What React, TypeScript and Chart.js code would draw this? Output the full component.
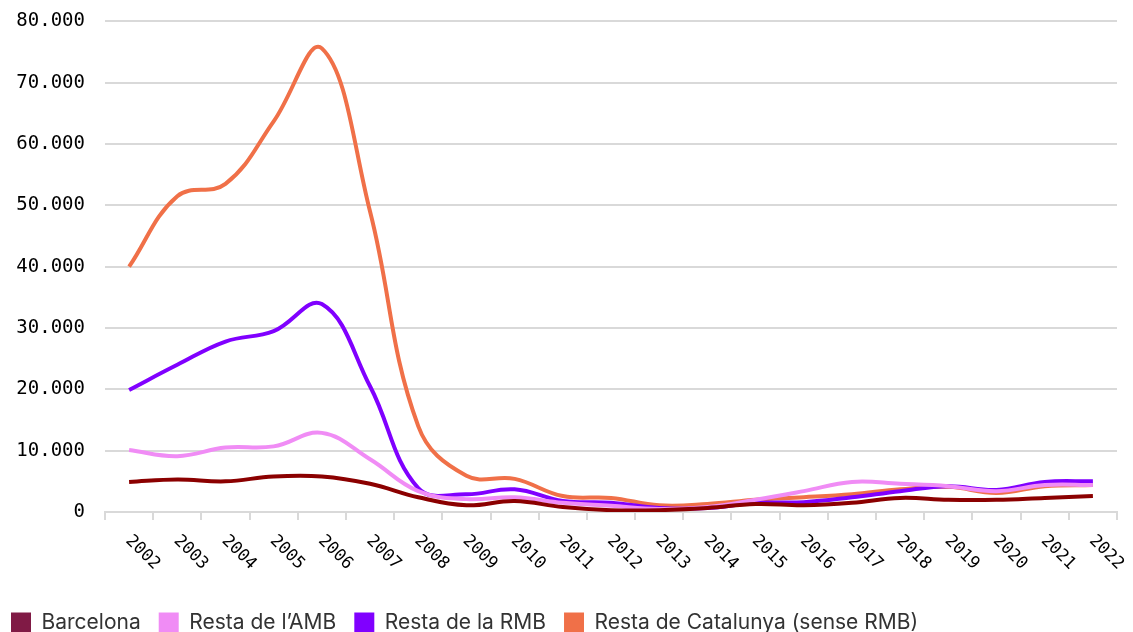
import React, { useEffect, useRef } from "react";
import { Chart, registerables } from "chart.js";

Chart.register(...registerables);

const years = ["2002","2003","2004","2005","2006","2007","2008","2009","2010","2011","2012","2013","2014","2015","2016","2017","2018","2019","2020","2021","2022"];
const barcelona = [4900,5300,5000,5800,5800,4600,2400,1100,1800,800,300,300,650,1300,1100,1500,2300,2000,2000,2300,2600];
const restaAMB = [10100,9100,10500,10700,12900,8600,3400,2100,2400,1500,1000,500,800,2000,3400,4900,4600,4200,3400,4400,4400];
const restaRMB = [19900,24000,27800,29500,33900,20500,3900,2900,3700,1800,1500,650,650,1500,1600,2400,3400,4200,3600,4900,5000];
const restaCat = [40000,51500,53500,63700,75600,49000,14000,5900,5400,2600,2300,1100,1300,2000,2400,2900,3700,4100,3100,4200,4400];

const seriesNames = ["Barcelona", "Resta de l\u2019AMB", "Resta de la RMB", "Resta de Catalunya (sense RMB)"];
const lineColors = ["#8B0000", "#F08CF5", "#8000FF", "#F07048"];
const legendColors = ["#801A45", "#F08CF5", "#8000FF", "#F07048"];

const yTicks = [0, 10000, 20000, 30000, 40000, 50000, 60000, 70000, 80000];

const xTickFont = '17px "DejaVu Sans Mono"';

function fmt(v: number): string {
  return String(Math.round(v)).replace(/\B(?=(\d{3})+(?!\d))/g, ".");
}

const rotatedLabels = {
  id: "rotatedLabels",
  afterDraw(chart: any) {
    const xs = chart.scales.x;
    const ctx = chart.ctx;
    ctx.save();
    ctx.font = xTickFont;
    ctx.fillStyle = "#000";
    ctx.textAlign = "left";
    ctx.textBaseline = "middle";
    years.forEach((y, i) => {
      const x = xs.getPixelForValue(i);
      ctx.save();
      ctx.translate(x - 1, xs.top + 26);
      ctx.rotate(Math.PI / 4);
      ctx.fillText(y, 0, 0);
      ctx.restore();
    });
    ctx.restore();
  },
};

export default function App() {
  const ref = useRef<HTMLCanvasElement | null>(null);
  useEffect(() => {
    if (!ref.current) return;
    const data = [barcelona, restaAMB, restaRMB, restaCat];
    const chart = new Chart(ref.current, {
      type: "line",
      data: {
        labels: years,
        datasets: data.map((d, i) => ({
          label: seriesNames[i],
          data: d,
          borderColor: lineColors[i],
          backgroundColor: legendColors[i],
          borderWidth: 4,
          pointRadius: 0,
          tension: 0.4,
          fill: false,
        })),
      },
      options: {
        animation: false,
        responsive: true,
        maintainAspectRatio: false,
        layout: { padding: { top: 3, right: 16, left: -7, bottom: -11 } },
        plugins: {
          tooltip: { enabled: false },
          legend: {
            position: "bottom",
            align: "start",
            labels: {
              boxWidth: 20,
              boxHeight: 20,
              padding: 18,
              color: "#333",
              font: { family: "Inter", size: 21 },
              generateLabels: (c: any) =>
                c.data.datasets.map((ds: any, i: number) => ({
                  text: ds.label,
                  fillStyle: legendColors[i],
                  strokeStyle: legendColors[i],
                  lineWidth: 0,
                  hidden: false,
                  datasetIndex: i,
                  fontColor: "#333",
                })),
            },
          },
        },
        scales: {
          x: {
            type: "category",
            offset: true,
            grid: {
              display: true,
              drawOnChartArea: false,
              drawTicks: true,
              tickLength: 8,
              offset: true,
              color: "#d9d9d9",
              lineWidth: 2,
            },
            border: { display: true, color: "#d9d9d9", width: 2 },
            ticks: { display: false },
            afterFit: (scale: any) => {
              scale.height = 82;
            },
          },
          y: {
            min: 0,
            max: 80000,
            afterBuildTicks: (scale: any) => {
              scale.ticks = yTicks.map((v) => ({ value: v }));
            },
            grid: { color: "#d9d9d9", lineWidth: 2, drawTicks: true, tickLength: 10, tickColor: "rgba(0,0,0,0)" },
            border: { display: false },
            ticks: {
              padding: 10,
              color: "#000",
              font: { family: "DejaVu Sans Mono", size: 19 },
              callback: (v: any) => fmt(Number(v)),
            },
            afterFit: (scale: any) => {
              scale.width = 112;
            },
          },
        },
      },
      plugins: [rotatedLabels],
    });
    return () => chart.destroy();
  }, []);
  return (
    <div style={{ position: "fixed", left: 0, top: 0, width: 1133, height: 632 }}>
      <canvas ref={ref} />
    </div>
  );
}
